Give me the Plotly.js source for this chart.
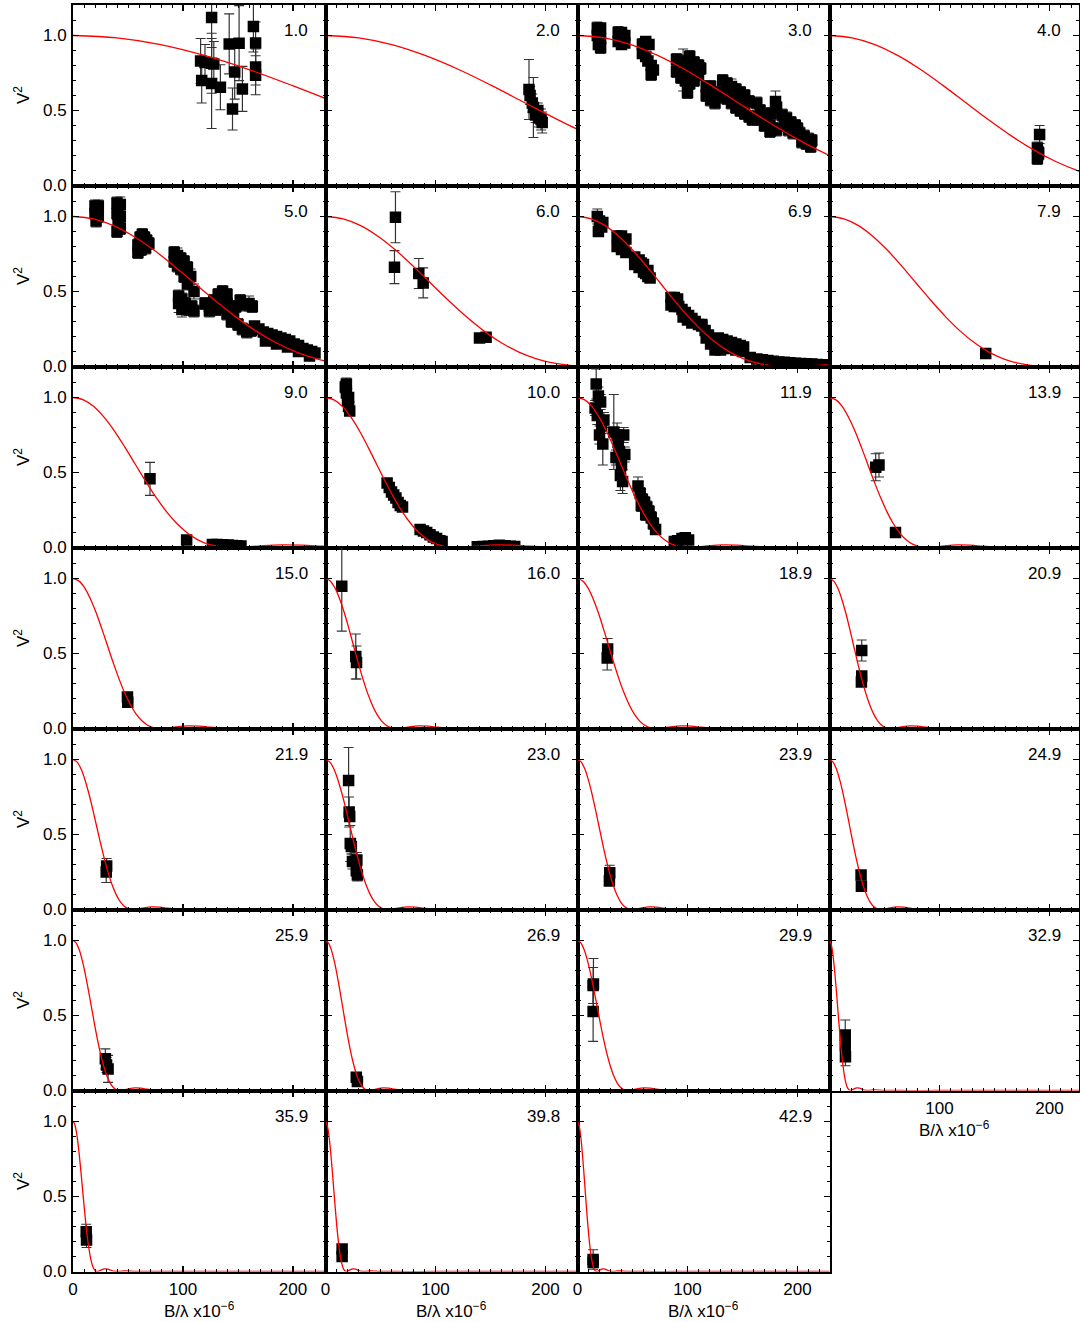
<!DOCTYPE html>
<html><head><meta charset="utf-8">
<script src="https://cdn.plot.ly/plotly-3.0.1.min.js"></script>
<style>html,body{margin:0;padding:0;background:#fff}#chart{width:1080px;height:1322px}</style>
</head><body><div id="chart"></div>
<script>
// ---- panel labels and fitted model first-null positions (B/lambda x1e-6) ----
const panelLabels = ['1.0','2.0','3.0','4.0','5.0','6.0','6.9','7.9','9.0','10.0','11.9','13.9','15.0','16.0','18.9','20.9','21.9','23.0','23.9','24.9','25.9','26.9','29.9','32.9','35.9','39.8','42.9'];
const curveNull = [610,462,372,316,283,245,193,202,145,119,101,89,80,65,72,56,55,57,50,47,43,40,46,19,22,19,17.5];

// ---- uniform-disk V^2 shape table (argument, V^2); first null at udNullArg ----
const udNullArg = 3.8317;
const udArg = [0,0.25,0.5,0.75,1.0,1.25,1.5,1.75,2.0,2.25,2.5,2.75,3.0,3.25,3.5,3.75,3.8317,4.0,4.5,5.0,5.5,6.0,6.5,7.0,7.5,8.0,8.5,9.0,9.5,10.0,11.0,12.0,13.0,20.0,60.0];
const udV2  = [1,0.9841,0.9394,0.8671,0.7748,0.6674,0.5533,0.4397,0.3326,0.2376,0.1582,0.0960,0.0511,0.0220,0.0062,0.0003,0,0.0011,0.0106,0.0172,0.0154,0.0085,0.0022,0.0000,0.0013,0.0034,0.0041,0.0030,0.0012,0.0001,0.0010,0.0014,0.0001,0,0];

// ---- measured visibilities: B (x1e-6), V^2, error ----
const B01=[116,117,120,126,126,126,128,134,142,145,147,151,154,164,166,166,166];
const V01=[0.83,0.70,0.82,1.12,0.815,0.68,0.81,0.655,0.944,0.51,0.756,0.949,0.644,1.06,0.95,0.79,0.735];
const E01=[0.15,0.15,0.12,0.2,0.2,0.3,0.15,0.15,0.2,0.14,0.18,0.25,0.15,0.17,0.14,0.12,0.13];

const B02=[185,186,188,189,191,193,194,196,197];
const V02=[0.64,0.60,0.55,0.52,0.47,0.50,0.45,0.44,0.42];
const E02=[0.2,0.06,0.06,0.2,0.05,0.05,0.06,0.07,0.07];

const B03=[18,21,18,21,19,21, 37,40,43,37,40,43, 59,62,65,59,62,64,67,69,67,
  90,94,98,102,106,110,90,94,98,102,106,110,112,96,104,100,
  117,121,125,117,121,125,127,
  132,136,140,144,148,152,156,132,136,140,144,148,152,156,159,140,150,
  163,166,169,172,175,178,181,165,170,175,180,181,176,
  186,190,194,198,200,188,192,196,
  202,206,210,213,204,208,212];
const V03=[1.05,1.05,1.0,0.98,0.94,0.92, 1.02,1.02,1.0,0.96,0.94,0.95, 0.94,0.96,0.94,0.88,0.86,0.83,0.80,0.77,0.74,
  0.84,0.82,0.83,0.86,0.82,0.80,0.76,0.72,0.70,0.68,0.70,0.74,0.78,0.77,0.76,0.62,
  0.66,0.66,0.62,0.60,0.57,0.55,0.59,
  0.70,0.68,0.66,0.64,0.62,0.60,0.56,0.62,0.58,0.55,0.52,0.50,0.48,0.46,0.44,0.60,0.55,
  0.55,0.50,0.46,0.42,0.40,0.38,0.37,0.44,0.40,0.36,0.56,0.52,0.48,
  0.47,0.45,0.42,0.40,0.38,0.40,0.37,0.35,
  0.35,0.33,0.31,0.30,0.29,0.28,0.26];
const E03=[0.04,0.03,0.03,0.03,0.03,0.04, 0.04,0.03,0.03,0.03,0.03,0.03, 0.04,0.03,0.03,0.03,0.03,0.03,0.03,0.03,0.04,
  0.04,0.04,0.04,0.04,0.04,0.04,0.04,0.04,0.04,0.04,0.04,0.04,0.04,0.14,0.04,0.04,
  0.04,0.04,0.04,0.04,0.04,0.04,0.04,
  0.04,0.04,0.05,0.04,0.04,0.04,0.04,0.04,0.04,0.04,0.04,0.04,0.04,0.04,0.04,0.04,0.04,
  0.04,0.04,0.04,0.04,0.04,0.04,0.04,0.04,0.04,0.04,0.07,0.04,0.04,
  0.04,0.04,0.04,0.04,0.04,0.04,0.04,0.04,
  0.04,0.04,0.04,0.04,0.04,0.04,0.04];

const B04=[189,190,189,190,191];
const V04=[0.25,0.22,0.18,0.21,0.34];
const E04=[0.04,0.04,0.04,0.04,0.06];

const B05=[20,23,20,23,21,22, 40,43,40,43,41,43,40,
  59,59,61,63,65,67,69,66,62,
  92,95,98,92,95,98,101,104,101,104,107,96,96,99,99,102,105,108,110,110,
  120,124,128,132,136,140,124,130,136,140,
  148,152,156,160,163,146,150,154,158,162,140,144,
  165,169,173,177,181,185,189,193,197,201,205,209,213,217,220,175,185,195,205,215];
const V05=[1.07,1.07,1.02,1.0,0.97,1.04, 1.09,1.08,1.02,1.0,0.95,0.92,0.9,
  0.76,0.81,0.86,0.88,0.86,0.84,0.82,0.79,0.78,
  0.76,0.74,0.72,0.70,0.67,0.65,0.70,0.66,0.60,0.55,0.60,0.47,0.42,0.45,0.38,0.42,0.38,0.40,0.37,0.50,
  0.42,0.40,0.44,0.48,0.50,0.48,0.37,0.38,0.40,0.42,
  0.40,0.44,0.41,0.42,0.40,0.33,0.28,0.25,0.23,0.24,0.35,0.30,
  0.27,0.25,0.23,0.22,0.21,0.20,0.19,0.18,0.17,0.15,0.14,0.12,0.11,0.10,0.09,0.17,0.15,0.13,0.10,0.07];
const E05=[0.04,0.04,0.04,0.04,0.04,0.04, 0.04,0.05,0.04,0.04,0.04,0.04,0.04,
  0.04,0.04,0.04,0.04,0.04,0.04,0.04,0.04,0.04,
  0.04,0.05,0.04,0.04,0.04,0.04,0.04,0.04,0.04,0.04,0.05,0.04,0.06,0.04,0.05,0.04,0.04,0.04,0.04,0.05,
  0.04,0.04,0.04,0.04,0.04,0.04,0.04,0.04,0.04,0.04,
  0.04,0.04,0.04,0.05,0.04,0.04,0.04,0.04,0.04,0.04,0.04,0.04,
  0.03,0.03,0.03,0.03,0.03,0.03,0.03,0.03,0.03,0.03,0.03,0.03,0.03,0.03,0.03,0.03,0.03,0.03,0.03,0.03];

const B06=[63.6,62.7,84.8,88.8,140,146];
const V06=[0.995,0.662,0.62,0.557,0.19,0.195];
const E06=[0.17,0.11,0.10,0.10,0.02,0.02];

const B07=[18,20,22,19,23,
  36,40,44,36,40,44,38,42,
  52,52,56,56,60,60,64,64,66,58,62,
  85,88,91,85,88,92,
  95,98,101,104,107,110,113,96,100,104,
  113,116,119,122,125,128,130,117,121,125,
  128,132,136,140,144,148,151,132,138,144,150,
  157,163,168,173,178,183,188,193,198,203,208,213,218,223,227];
const V07=[1.0,0.97,0.93,0.90,0.96,
  0.87,0.87,0.85,0.80,0.78,0.76,0.83,0.81,
  0.73,0.68,0.71,0.66,0.68,0.63,0.64,0.60,0.59,0.69,0.62,
  0.46,0.46,0.45,0.41,0.40,0.40,
  0.38,0.36,0.34,0.32,0.30,0.28,0.27,0.33,0.31,0.29,
  0.28,0.24,0.21,0.18,0.15,0.12,0.11,0.19,0.15,0.11,
  0.19,0.18,0.17,0.16,0.15,0.14,0.13,0.13,0.12,0.11,0.10,
  0.06,0.05,0.045,0.04,0.035,0.03,0.028,0.025,0.022,0.02,0.018,0.016,0.014,0.012,0.01];
const E07=[0.05,0.03,0.03,0.03,0.03,
  0.03,0.03,0.03,0.03,0.03,0.03,0.03,0.03,
  0.03,0.03,0.03,0.03,0.03,0.03,0.03,0.03,0.03,0.03,0.03,
  0.03,0.03,0.03,0.03,0.03,0.03,
  0.03,0.03,0.03,0.03,0.03,0.03,0.03,0.03,0.03,0.03,
  0.02,0.02,0.02,0.02,0.02,0.02,0.02,0.02,0.02,0.02,
  0.02,0.02,0.02,0.02,0.02,0.02,0.02,0.02,0.02,0.02,0.02,
  0.01,0.01,0.01,0.01,0.01,0.01,0.01,0.01,0.01,0.01,0.01,0.01,0.01,0.01,0.01];

const B08=[142];
const V08=[0.087];
const E08=[0.02];

const B09=[70,103.3,126.7,131,136,141,145,149,152.7];
const V09=[0.458,0.05,0.02,0.02,0.018,0.016,0.014,0.012,0.01];
const E09=[0.11,0.015,0.01,0.01,0.01,0.01,0.01,0.01,0.01];

const B10=[18,19,20,21,22,19,21, 56,58,60,62,64,66,68,70, 86,89,92,95,98,101,104,106, 138,143,148,153,158,163,168,172];
const V10=[1.07,1.03,0.98,0.94,0.91,1.09,1.0, 0.43,0.40,0.37,0.35,0.33,0.30,0.28,0.27, 0.12,0.11,0.10,0.085,0.07,0.06,0.045,0.04, 0.005,0.006,0.008,0.012,0.015,0.012,0.008,0.006];
const E10=[0.04,0.03,0.03,0.03,0.03,0.04,0.03, 0.02,0.02,0.02,0.02,0.02,0.02,0.02,0.02, 0.02,0.02,0.02,0.02,0.02,0.02,0.02,0.02, 0.01,0.01,0.01,0.01,0.01,0.01,0.01,0.01];

const B11=[17,19,21,18,22,20,23,16,24, 33,36,38,40,42,39,41,37,35,43, 55,57,59,61,63,65,67,69,71,62,58, 88,91,95,98,101];
const V11=[1.09,1.01,0.97,0.88,0.81,0.75,0.69,0.93,0.85, 0.77,0.75,0.64,0.55,0.75,0.48,0.44,0.70,0.60,0.62, 0.41,0.36,0.32,0.30,0.27,0.24,0.20,0.16,0.12,0.22,0.28, 0.04,0.045,0.06,0.065,0.05];
const E11=[0.1,0.06,0.05,0.06,0.05,0.06,0.14,0.05,0.05, 0.25,0.08,0.06,0.06,0.05,0.1,0.08,0.06,0.05,0.05, 0.06,0.04,0.04,0.04,0.04,0.04,0.04,0.04,0.03,0.04,0.04, 0.02,0.02,0.02,0.02,0.02];

const B12=[42,45,60];
const V12=[0.535,0.55,0.10];
const E12=[0.09,0.08,0.03];

const B13=[49.5,49.8];
const V13=[0.21,0.175];
const E13=[0.03,0.03];

const B14=[14.8,27.5,28.2];
const V14=[0.949,0.48,0.44];
const E14=[0.3,0.15,0.11];

const B15=[27.4,27.0];
const V15=[0.53,0.47];
const E15=[0.07,0.08];

const B16=[29.3,29.3,29.0];
const V16=[0.52,0.35,0.31];
const E16=[0.07,0.03,0.03];

const B17=[30.6,30.2];
const V17=[0.29,0.25];
const E17=[0.05,0.07];

const B18=[21,21.5,22,22.5,23.5,24.5,28.5,28,29];
const V18=[0.86,0.65,0.62,0.44,0.42,0.32,0.33,0.26,0.23];
const E18=[0.22,0.1,0.06,0.12,0.05,0.05,0.05,0.04,0.04];

const B19=[29.3,29.0];
const V19=[0.245,0.19];
const E19=[0.05,0.03];

const B20=[28.7,29.0];
const V20=[0.23,0.155];
const E20=[0.03,0.03];

const B21=[29.4,31.9,30.5];
const V21=[0.211,0.144,0.17];
const E21=[0.067,0.09,0.05];

const B22=[28,29];
const V22=[0.089,0.06];
const E22=[0.02,0.02];

const B23=[14.2,14.2,14.5];
const V23=[0.70,0.527,0.71];
const E23=[0.12,0.2,0.17];

const B24=[14.3,14.3,14.5];
const V24=[0.37,0.30,0.225];
const E24=[0.1,0.05,0.06];

const B25=[12,12.3];
const V25=[0.265,0.21];
const E25=[0.05,0.05];

const B26=[15.1,15.1];
const V26=[0.15,0.10];
const E26=[0.02,0.02];

const B27=[14.2,14.2];
const V27=[0.08,0.06];
const E27=[0.065,0.03];

const dataB=[B01,B02,B03,B04,B05,B06,B07,B08,B09,B10,B11,B12,B13,B14,B15,B16,B17,B18,B19,B20,B21,B22,B23,B24,B25,B26,B27];
const dataV=[V01,V02,V03,V04,V05,V06,V07,V08,V09,V10,V11,V12,V13,V14,V15,V16,V17,V18,V19,V20,V21,V22,V23,V24,V25,V26,V27];
const dataE=[E01,E02,E03,E04,E05,E06,E07,E08,E09,E10,E11,E12,E13,E14,E15,E16,E17,E18,E19,E20,E21,E22,E23,E24,E25,E26,E27];

const xTickVals=[0,100,200];
const yTickVals=[0,0.5,1.0];
const yTickText=['0.0','0.5','1.0'];
const xTitle='B/λ x10<sup>−6</sup>';
const yTitle='V<sup>2</sup>';

// ---- layout geometry (pixels) ----
const W=1080,H=1322;
const colL=[73,325.5,577.5,829.5], colR=[325.5,577.5,829.5,1079];
const rowTop0=4.5, rowH=181, pxPerUnit=1.1, pxPerV=150;
const FONT='Liberation Sans, Arial, Helvetica, sans-serif';

const traces=[];
const layout={width:W,height:H,margin:{l:0,r:0,t:0,b:0},paper_bgcolor:'#fff',plot_bgcolor:'#fff',
  showlegend:false,font:{family:FONT,size:17,color:'#000'},annotations:[]};

for(let p=0;p<panelLabels.length;p++){
  const r=Math.floor(p/4), c=p%4;
  const sfx = p===0?'':String(p+1);
  const top=rowTop0+rowH*r, bot=top+rowH;
  const corner = (r===5 && c===3);
  const showX = (r===6) || corner;
  const showY = (c===0);
  const common={showline:true,linecolor:'#000',linewidth:2,mirror:'allticks',ticks:'inside',
    ticklen:6,tickwidth:1.2,tickcolor:'#000',showgrid:false,zeroline:false,fixedrange:true,
    tickfont:{family:FONT,size:17,color:'#000'}};
  layout['xaxis'+sfx]=Object.assign({},common,{
    domain:[colL[c]/W,colR[c]/W],range:[0,(colR[c]-colL[c])/pxPerUnit],
    anchor:'y'+sfx,tickmode:'array',tickvals:corner?[100,200]:xTickVals,
    ticktext:corner?['100','200']:xTickVals.map(String),
    showticklabels:showX,ticklabelstandoff:1,
    minor:{tick0:0,dtick:10,ticks:'inside',ticklen:3,tickwidth:1,tickcolor:'#000',showgrid:false}});
  layout['yaxis'+sfx]=Object.assign({},common,{
    domain:[1-bot/H,1-top/H],range:[0,rowH/pxPerV],anchor:'x'+sfx,
    tickmode:'array',tickvals:yTickVals,ticktext:yTickText,showticklabels:showY,ticklabelstandoff:1,
    minor:{tick0:0,dtick:0.1,ticks:'inside',ticklen:3,tickwidth:1,tickcolor:'#000',showgrid:false}});

  traces.push({type:'scatter',mode:'markers',x:dataB[p],y:dataV[p],xaxis:'x'+sfx,yaxis:'y'+sfx,
    marker:{symbol:'square',size:11.5,color:'#000'},
    error_y:{type:'data',array:dataE[p],visible:true,color:'#333',thickness:1.2,width:5},
    hoverinfo:'skip'});
  traces.push({type:'scatter',mode:'lines',x:udArg.map(a=>a/udNullArg*curveNull[p]),y:udV2,
    xaxis:'x'+sfx,yaxis:'y'+sfx,line:{color:'#ff0000',width:1.3,shape:'spline'},hoverinfo:'skip'});

  layout.annotations.push({xref:'paper',yref:'paper',x:(colR[c]-16)/W,y:1-(top+26)/H,
    xanchor:'right',yanchor:'middle',showarrow:false,text:panelLabels[p],font:{family:FONT,size:17,color:'#000'}});
  if(showY){
    layout.annotations.push({xref:'paper',yref:'paper',x:22/W,y:1-(top+rowH/2)/H,
      xanchor:'center',yanchor:'middle',textangle:-90,showarrow:false,text:yTitle,font:{family:FONT,size:17,color:'#000'}});
  }
  if(showX){
    layout.annotations.push({xref:'paper',yref:'paper',x:((colL[c]+colR[c])/2)/W,y:1-(bot+38)/H,
      xanchor:'center',yanchor:'middle',showarrow:false,text:xTitle,font:{family:FONT,size:17,color:'#000'}});
  }
}

Plotly.newPlot('chart',traces,layout,{staticPlot:true,displayModeBar:false});
</script></body></html>
